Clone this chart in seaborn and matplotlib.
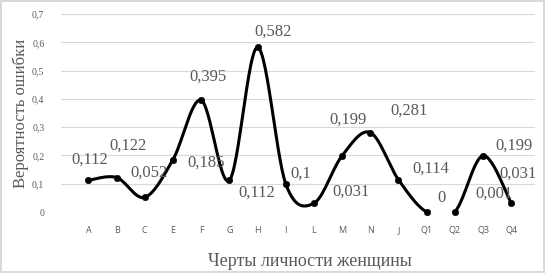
import numpy as np
import pandas as pd
import matplotlib
matplotlib.use("Agg")
import matplotlib.pyplot as plt
import seaborn as sns

# chart data
traits = ["A", "B", "C", "E", "F", "G", "H", "I", "L", "M", "N", "J", "Q1", "Q2", "Q3", "Q4"]
error_prob = [0.112, 0.122, 0.052, 0.185, 0.395, 0.112, 0.582, 0.1, 0.031, 0.199, 0.281, 0.114, 0, 0.001, 0.199, 0.031]
point_labels = ["0,112", "0,122", "0,052", "0,185", "0,395", "0,112", "0,582", "0,1", "0,031", "0,199",
                "0,281", "0,114", "0", "0,001", "0,199", "0,031"]
y_ticks = [0, 0.1, 0.2, 0.3, 0.4, 0.5, 0.6, 0.7]
y_ticklabels = ["0", "0,1", "0,2", "0,3", "0,4", "0,5", "0,6", "0,7"]

# label offsets in points (dx, dy) relative to each marker
label_offsets = [(1, 15), (8, 23), (3, 18), (24, -2), (5, 17), (20, -9), (11, 11), (11, 7), (27, 8),
                 (4, 26), (28, 16), (23, 8), (11, 10), (28, 13), (22, 7), (5, 21)]

df = pd.DataFrame({"trait": traits, "p": error_prob})
df["x"] = np.arange(len(traits))


def smooth_curve(xs, ys, n=30):
    # Catmull-Rom style smoothing like a spreadsheet "smoothed line"
    px = np.concatenate([[xs[0]], xs, [xs[-1]]])
    py = np.concatenate([[ys[0]], ys, [ys[-1]]])
    out_x, out_y = [], []
    t = np.linspace(0, 1, n)
    for i in range(1, len(px) - 2):
        p0, p1, p2, p3 = (np.array([px[j], py[j]]) for j in range(i - 1, i + 3))
        c1 = p1 + (p2 - p0) / 6
        c2 = p2 - (p3 - p1) / 6
        b = ((1 - t) ** 3)[:, None] * p1 + (3 * (1 - t) ** 2 * t)[:, None] * c1 \
            + (3 * (1 - t) * t ** 2)[:, None] * c2 + (t ** 3)[:, None] * p2
        out_x.extend(b[:, 0])
        out_y.extend(b[:, 1])
    return pd.DataFrame({"x": out_x, "y": out_y})


curve = smooth_curve(df["x"].values.astype(float), df["p"].values.astype(float))

sns.set_style("white")
fig = plt.figure(figsize=(5.45, 2.73), dpi=100)
fig.patch.set_edgecolor("#d9d9d9")
fig.patch.set_linewidth(1.5)
ax = fig.add_axes([0.112, 0.2234, 0.87, 0.7253])

for y in y_ticks:
    ax.axhline(y, color="#d9d9d9", lw=0.8, zorder=0)

sns.lineplot(data=curve, x="x", y="y", ax=ax, color="black", lw=2.2, sort=False, estimator=None)
sns.scatterplot(data=df, x="x", y="p", ax=ax, color="black", s=22, edgecolor="black", zorder=5, clip_on=False)

for xi, yi, lab, (dx, dy) in zip(df["x"], df["p"], point_labels, label_offsets):
    ax.annotate(lab, (xi, yi), xytext=(dx, dy), textcoords="offset points", ha="center", va="center",
                fontsize=12, color="#595959", family="Liberation Serif")

ax.set_xlim(-0.97, 15.85)
ax.set_ylim(0, 0.7)
ax.set_xticks(df["x"])
ax.set_xticklabels(traits, fontsize=6.5, color="#595959", family="Open Sans")
ax.set_yticks(y_ticks)
ax.set_yticklabels(y_ticklabels, fontsize=7, color="#595959", family="Liberation Serif")
ax.tick_params(axis="both", length=0, pad=10)
ax.tick_params(axis="y", pad=12)
sns.despine(ax=ax, left=True, bottom=True, top=True, right=True)
ax.set_xlabel("Черты личности женщины", fontsize=13, color="#595959", family="Liberation Serif")
ax.xaxis.set_label_coords(0.525, -0.205)
ax.set_ylabel("Вероятность ошибки", fontsize=12, color="#595959", family="Liberation Serif")
ax.yaxis.set_label_coords(-0.068, 0.5)

fig.savefig("out.png", dpi=100)
